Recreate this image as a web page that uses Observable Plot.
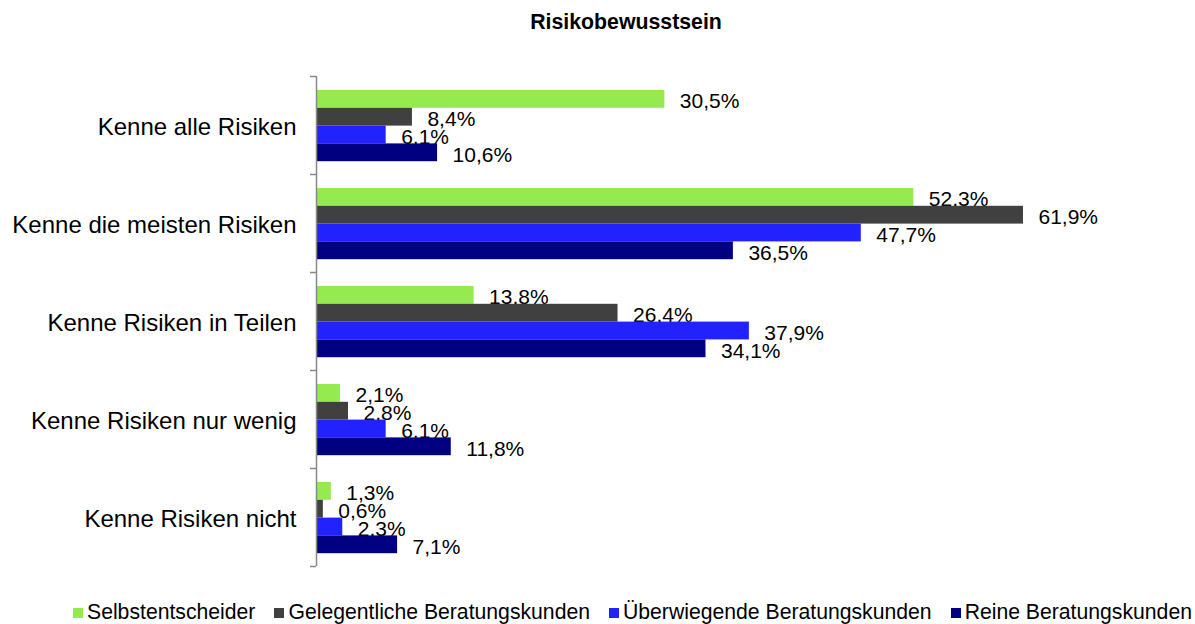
<!DOCTYPE html>
<html><head><meta charset="utf-8">
<script src="https://cdn.jsdelivr.net/npm/d3@7"></script>
<script src="https://cdn.jsdelivr.net/npm/@observablehq/plot@0.6"></script>
<style>
body{margin:0;background:#fff;font-family:"Liberation Sans",Arial,sans-serif;width:1195px;height:624px;overflow:hidden;color:#000}
#title{height:44px;line-height:44px;text-align:center;font-weight:bold;font-size:21.3px;padding-left:57px}
#chart{height:550px}
#legend{display:flex;align-items:center;padding-left:73px;font-size:21.2px;line-height:30px;padding-top:3px;white-space:nowrap}
.item{display:flex;align-items:center;margin-right:19px}
.sw{width:10px;height:10px;margin-right:4px;margin-top:2px}
</style></head><body>
<div id="title">Risikobewusstsein</div>
<div id="chart"></div>
<div id="legend"></div>
<script>
const categories = ["Kenne alle Risiken", "Kenne die meisten Risiken", "Kenne Risiken in Teilen", "Kenne Risiken nur wenig", "Kenne Risiken nicht"];
const seriesNames = ["Selbstentscheider", "Gelegentliche Beratungskunden", "Überwiegende Beratungskunden", "Reine Beratungskunden"];
const selbstentscheider = [30.5, 52.3, 13.8, 2.1, 1.3];
const gelegentliche = [8.4, 61.9, 26.4, 2.8, 0.6];
const ueberwiegende = [6.1, 47.7, 37.9, 6.1, 2.3];
const reine = [10.6, 36.5, 34.1, 11.8, 7.1];
const colors = ["#95EA50", "#404040", "#2222FF", "#000080"];

const seriesValues = [selbstentscheider, gelegentliche, ueberwiegende, reine];
const data = [];
seriesValues.forEach((vals, si) => vals.forEach((v, ci) => data.push({category: categories[ci], series: seriesNames[si], si, value: v})));

const band = 98, start = 14, step = 17.8;
const fmt = v => v.toFixed(1).replace(".", ",") + "%";
const pxPerUnit = 11.422;

const marks = [];
seriesNames.forEach((name, i) => {
  const d = data.filter(r => r.si === i);
  const top = start + i * step;
  const bottom = band - (start + (i + 1) * step);
  marks.push(Plot.barX(d, {x: "value", y: "category", fill: colors[i], insetTop: top, insetBottom: bottom}));
  marks.push(Plot.text(d, {x: "value", y: "category", text: r => fmt(r.value), dx: 15, dy: top + step / 2 - band / 2 + 2, textAnchor: "start", fontSize: 21, fill: "#000"}));
});
marks.push(Plot.ruleX([0], {stroke: "#888", strokeWidth: 1.5}));
marks.push(Plot.ruleY(categories, {y: d => d, x1: -6 / pxPerUnit, x2: 0, dy: -band / 2, stroke: "#888", strokeWidth: 1.5}));
marks.push(Plot.ruleY([categories[categories.length - 1]], {y: d => d, x1: -6 / pxPerUnit, x2: 0, dy: band / 2, stroke: "#888", strokeWidth: 1.5}));
marks.push(Plot.axisY({tickSize: 0, tickPadding: 20, fontSize: 24, label: null, dy: 2}));

const chart = Plot.plot({
  width: 1195,
  height: 550,
  marginTop: 32,
  marginBottom: 28,
  marginLeft: 316,
  marginRight: 79.5,
  style: {fontFamily: "Liberation Sans, Arial, sans-serif", color: "#000", background: "#fff", overflow: "visible"},
  x: {domain: [0, 70], axis: null},
  y: {domain: categories, padding: 0, axis: null},
  marks
});
document.getElementById("chart").appendChild(chart);

const legend = document.getElementById("legend");
seriesNames.forEach((name, i) => {
  const item = document.createElement("div");
  item.className = "item";
  const sw = document.createElement("span");
  sw.className = "sw";
  sw.style.background = colors[i];
  const t = document.createElement("span");
  t.textContent = name;
  item.appendChild(sw); item.appendChild(t);
  legend.appendChild(item);
});
</script>
</body></html>
